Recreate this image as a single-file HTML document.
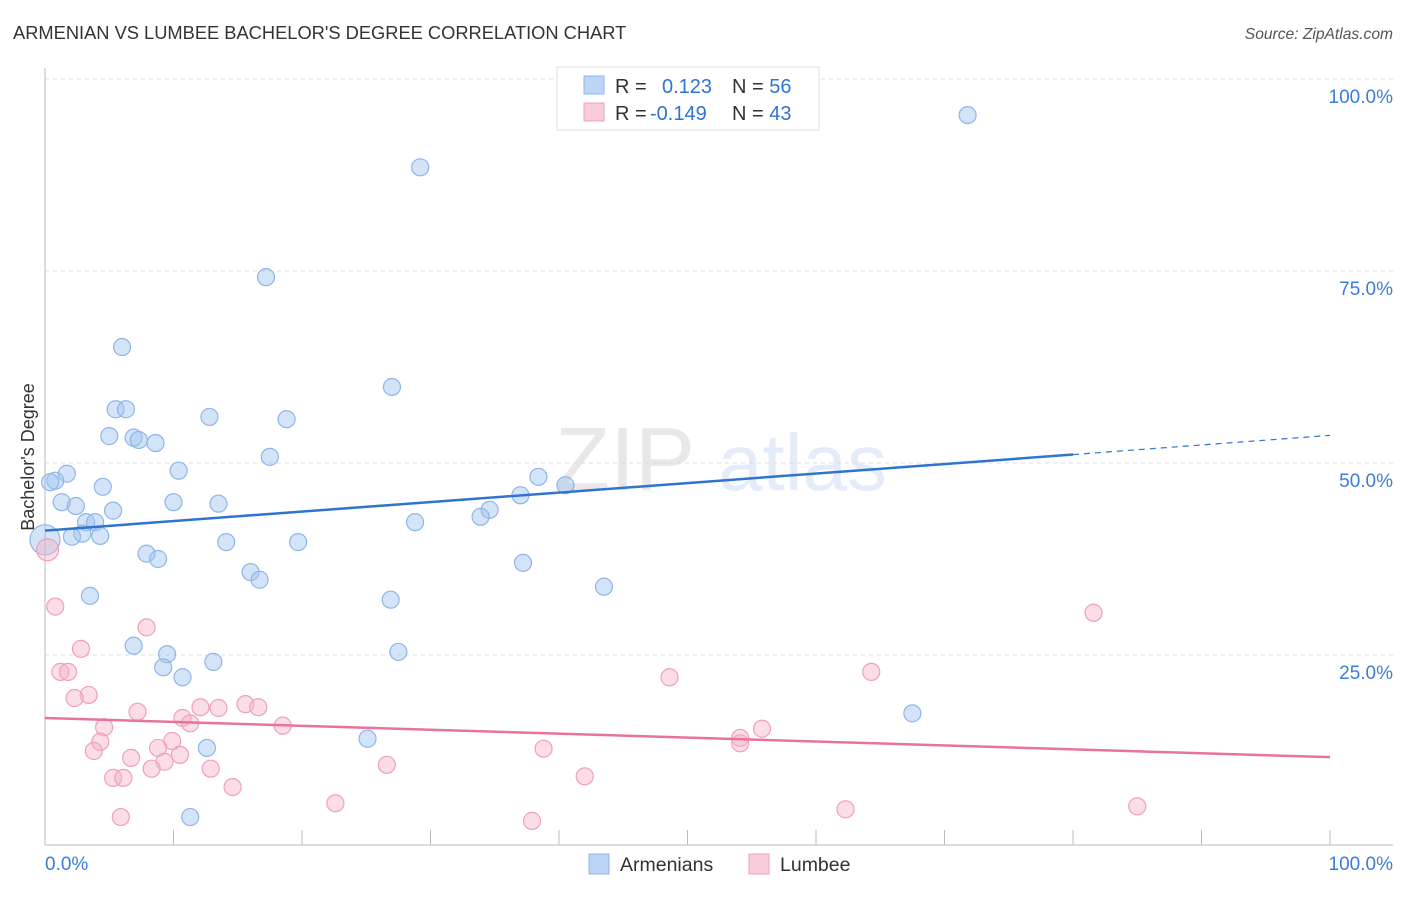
<!DOCTYPE html>
<html><head><meta charset="utf-8"><style>
body{margin:0;background:#fff;font-family:"Liberation Sans",sans-serif;}
svg text{font-family:"Liberation Sans",sans-serif;}
</style></head><body>
<svg id="chart" width="1406" height="892" viewBox="0 0 1406 892" xmlns="http://www.w3.org/2000/svg">
<text x="13" y="39" font-size="18.3" fill="#333">ARMENIAN VS LUMBEE BACHELOR'S DEGREE CORRELATION CHART</text>
<text x="1393" y="39" font-size="15.6" fill="#555" font-style="italic" text-anchor="end">Source: ZipAtlas.com</text>
<g opacity="0.13">
<text x="555" y="490" font-size="90" font-family="Liberation Serif" fill="#555">ZIP</text>
<text x="718" y="490" font-size="80" fill="#2f74d0">atlas</text>
</g>
<g id="grid"></g>
<g id="axes"></g>
<g id="marks"></g>
<g>
<rect x="557" y="67" width="262" height="63" fill="#fff" stroke="#ddd"/>
<rect x="584" y="76" width="20" height="18" fill="#bcd4f5" stroke="#8fb5e8"/>
<rect x="584" y="103" width="20" height="18" fill="#f9ccd9" stroke="#f0a0b8"/>
<text x="615" y="93" font-size="20" fill="#333">R = <tspan fill="#2f74d0" x="662">0.123</tspan><tspan x="732" fill="#333">N = </tspan><tspan fill="#2f74d0">56</tspan></text>
<text x="615" y="120" font-size="20" fill="#333">R = <tspan fill="#2f74d0" x="650">-0.149</tspan><tspan x="732" fill="#333">N = </tspan><tspan fill="#2f74d0">43</tspan></text>
</g>
<g>
<rect x="589" y="854" width="20" height="20" fill="#bcd4f5" stroke="#8fb5e8"/>
<text x="620" y="871" font-size="19.5" fill="#333">Armenians</text>
<rect x="749" y="854" width="20" height="20" fill="#f9ccd9" stroke="#f0a0b8"/>
<text x="780" y="871" font-size="19.5" fill="#333">Lumbee</text>
</g>
<text transform="translate(34,457) rotate(-90)" font-size="18" fill="#333" text-anchor="middle">Bachelor's Degree</text>
</svg>
<script>
const yTicks=[25,50,75,100];
const yTickLabels=["25.0%","50.0%","75.0%","100.0%"];
const xTickLabels=["0.0%","100.0%"];
const blueX=[71.8,29.2,17.2,6.0,27.0,5.5,6.3,12.8,18.8,5.0,6.9,7.3,8.6,17.5,10.4,1.7,0.8,0.4,4.5,38.4,40.5,37.0,1.3,10.0,13.5,2.4,5.3,34.6,33.9,3.2,3.9,28.8,2.9,2.1,4.3,14.1,19.7,0,7.9,8.8,37.2,16.0,16.7,43.5,3.5,26.9,6.9,9.5,27.5,9.2,13.1,10.7,67.5,12.6,25.1,11.3];
const blueY=[95.3,88.5,74.2,65.1,59.9,57.0,57.0,56.0,55.7,53.5,53.3,53.0,52.6,50.8,49.0,48.6,47.7,47.5,46.9,48.2,47.1,45.8,44.9,44.9,44.7,44.4,43.8,43.9,43.0,42.3,42.3,42.3,40.8,40.4,40.5,39.7,39.7,40.0,38.2,37.5,37.0,35.8,34.8,33.9,32.7,32.2,26.2,25.1,25.4,23.4,24.1,22.1,17.4,12.9,14.1,3.9];
const pinkX=[0.2,0.8,81.6,7.9,2.8,1.2,1.8,48.6,64.3,3.4,2.3,15.6,16.6,12.1,13.5,7.2,10.7,11.3,4.6,18.5,55.8,54.1,54.1,4.3,9.9,8.8,3.8,38.8,10.5,6.7,9.3,26.6,8.3,12.9,5.3,6.1,42.0,14.6,22.6,62.3,85.0,5.9,37.9];
const pinkY=[38.7,31.3,30.5,28.6,25.8,22.8,22.8,22.1,22.8,19.8,19.4,18.6,18.2,18.2,18.1,17.6,16.8,16.1,15.6,15.8,15.4,14.2,13.5,13.7,13.8,12.9,12.5,12.8,12.0,11.6,11.1,10.7,10.2,10.2,9.0,9.0,9.2,7.8,5.7,4.9,5.3,3.9,3.4];
const blueTrend=[41.2,51.1,53.6]; // at x=0, 80, 100
const pinkTrend=[16.8,11.7]; // at x=0, 100
const NS="http://www.w3.org/2000/svg";
const X=v=>45+v*12.85, Y=v=>847-v*7.68;
function mk(t,a,p){const e=document.createElementNS(NS,t);for(const k in a)e.setAttribute(k,a[k]);document.getElementById(p).appendChild(e);return e;}
yTicks.forEach((t,i)=>{
 const g=mk('line',{x1:45,x2:1393,y1:Y(t),y2:Y(t),stroke:'#ddd','stroke-dasharray':'4,4'},'grid');
 
 
 const l=mk('text',{x:1393,y:Y(t)+24,'font-size':19,fill:'#3b7dd8','text-anchor':'end'},'axes');
 l.textContent=yTickLabels[i];
 
 
});
mk('line',{x1:45,x2:45,y1:68,y2:845,stroke:'#bbb'},'axes');
mk('line',{x1:45,x2:1393,y1:845,y2:845,stroke:'#bbb'},'axes');
for(let i=0;i<=10;i++){const t=mk('line',{x1:X(i*10),x2:X(i*10),y1:830,y2:845,stroke:'#bbb'},'axes');
 
 }
[[0,'start',45],[100,'end',1393]].forEach(([v,a,x],i)=>{const l=mk('text',{x:x,y:870,'font-size':19,fill:'#3b7dd8','text-anchor':a},'axes');l.textContent=xTickLabels[i];
 
 });
blueX.forEach((x,i)=>{const c=mk('circle',{cx:X(x),cy:Y(blueY[i]),r:i==37?15:8.5,fill:'rgba(160,195,240,0.45)',stroke:'#8fb5e8','stroke-width':1.2},'marks');
 
 });
pinkX.forEach((x,i)=>{const c=mk('circle',{cx:X(x),cy:Y(pinkY[i]),r:i==0?11:8.5,fill:'rgba(245,180,200,0.45)',stroke:'#f0a0b8','stroke-width':1.2},'marks');
 
 });
let t1=mk('line',{x1:X(0),y1:Y(blueTrend[0]),x2:X(80),y2:Y(blueTrend[1]),stroke:'#2f74d0','stroke-width':2.5},'marks');


let t2=mk('line',{x1:X(80),y1:Y(blueTrend[1]),x2:X(100),y2:Y(blueTrend[2]),stroke:'#2f74d0','stroke-width':1.2,'stroke-dasharray':'6,5'},'marks');


let t3=mk('line',{x1:X(0),y1:Y(pinkTrend[0]),x2:X(100),y2:Y(pinkTrend[1]),stroke:'#e8739a','stroke-width':2.5},'marks');


</script>
</body></html>
